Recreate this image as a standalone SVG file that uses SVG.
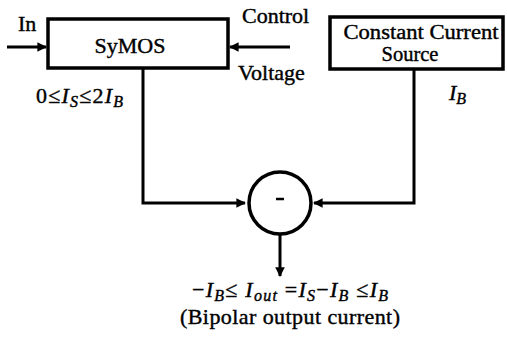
<svg xmlns="http://www.w3.org/2000/svg" width="507" height="337" viewBox="0 0 507 337">
<defs>
<style>
.box{fill:#fff;stroke:#000;stroke-width:3.5}
.ln{fill:none;stroke:#000;stroke-width:3}
.t{font-family:'Liberation Serif','DejaVu Serif',serif;font-size:22px;fill:#000;stroke:#000;stroke-width:0.4}
.it{font-style:italic}
.sub{font-style:italic;font-size:16px}
</style>
<marker id="ah" viewBox="0 0 10 10" refX="9" refY="5" markerWidth="3.2" markerHeight="3.2" orient="auto" markerUnits="strokeWidth">
<path d="M0,0 L10,5 L0,10 z" fill="#000"/>
</marker>
</defs>
<rect width="507" height="337" fill="#fff"/>
<g id="connectors">
<line class="ln" x1="7" y1="47" x2="46" y2="47" marker-end="url(#ah)"/>
<line class="ln" x1="290" y1="47" x2="230" y2="47" marker-end="url(#ah)"/>
<polyline class="ln" points="143,69 143,203 245,203" marker-end="url(#ah)"/>
<polyline class="ln" points="414,70 414,203 314,203" marker-end="url(#ah)"/>
<line class="ln" x1="280" y1="234" x2="280" y2="276" marker-end="url(#ah)"/>
</g>
<g id="symos">
<rect class="box" x="48" y="19" width="180" height="49"/>
<text class="t" x="130" y="53" text-anchor="middle" font-size="23">SyMOS</text>
</g>
<g id="ccs">
<rect class="box" x="330" y="17" width="173" height="52"/>
<text class="t" x="421" y="38.5" text-anchor="middle" textLength="155" lengthAdjust="spacingAndGlyphs" style="font-size:20.5px">Constant Current</text>
<text class="t" x="410" y="61" text-anchor="middle" style="font-size:20.5px">Source</text>
</g>
<g id="subtractor">
<circle cx="280" cy="203" r="31" fill="#fff" stroke="#000" stroke-width="3.5"/>
<line x1="276" y1="199" x2="284" y2="199" stroke="#000" stroke-width="2.5"/>
</g>
<g id="labels">
<text class="t" x="18" y="31">In</text>
<text class="t" x="242" y="23">Control</text>
<text class="t" x="238" y="80">Voltage</text>
<text class="t" x="36" y="103" textLength="87" lengthAdjust="spacing">0≤<tspan class="it">I</tspan><tspan class="sub" dy="4">S</tspan><tspan dy="-4">≤2</tspan><tspan class="it">I</tspan><tspan class="sub" dy="4">B</tspan></text>
<text class="t" x="449" y="100"><tspan class="it">I</tspan><tspan class="sub" dy="4">B</tspan></text>
<text class="t" x="192" y="297" textLength="196" lengthAdjust="spacing">−<tspan class="it">I</tspan><tspan class="sub" dy="4">B</tspan><tspan dy="-4">≤ </tspan><tspan class="it">I</tspan><tspan class="sub" dy="4">out</tspan><tspan dy="-4"> =</tspan><tspan class="it">I</tspan><tspan class="sub" dy="4">S</tspan><tspan dy="-4">−</tspan><tspan class="it">I</tspan><tspan class="sub" dy="4">B</tspan><tspan dy="-4"> ≤</tspan><tspan class="it">I</tspan><tspan class="sub" dy="4">B</tspan></text>
<text class="t" x="180" y="324" textLength="220" lengthAdjust="spacing">(Bipolar output current)</text>
</g>
</svg>
